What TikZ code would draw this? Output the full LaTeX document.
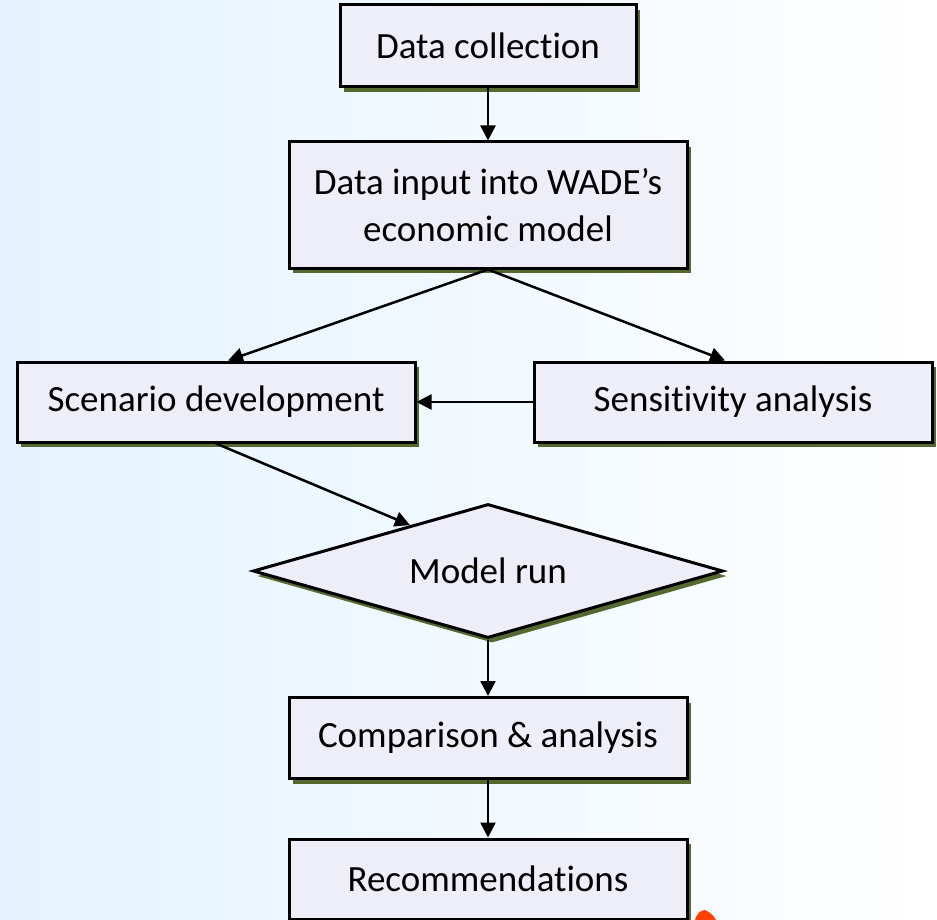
\documentclass[tikz,border=0pt]{standalone}
\usepackage{fontspec}
\setmainfont[Ligatures=NoCommon]{Carlito}
\usetikzlibrary{shapes.geometric,shadows,arrows.meta,calc}

\definecolor{bgblue}{RGB}{228,243,255}
\definecolor{boxfill}{RGB}{238,238,248}
\definecolor{shadowgreen}{RGB}{85,104,45}
\definecolor{logored}{RGB}{255,64,0}

\tikzset{
  stage/.style={draw, line width=3pt, fill=boxfill, inner sep=0pt, align=center,
    font=\fontsize{37}{47}\selectfont,
    drop shadow={shadow xshift=4pt, shadow yshift=-5pt, fill=shadowgreen, opacity=1}},
  decision/.style={stage, diamond, aspect=3.5},
  flow/.style={line width=2.5pt, -{Triangle[width=15pt,length=15pt]}},
}

\begin{document}
\begin{tikzpicture}[x=1pt, y=-1pt]
        \shade[left color=bgblue, right color=white] (0,0) rectangle (937,920);
        \useasboundingbox (0,0) rectangle (937,920);

        \node[stage, minimum width=296pt, minimum height=82pt] (coll) at (488,46) {Data collection};
        \node[stage, minimum width=398pt, minimum height=126pt] (input) at (488,205) {Data input into WADE’s\\economic model};
        \node[stage, minimum width=398pt, minimum height=80pt] (scen) at (216,402) {Scenario development};
        \node[stage, minimum width=398pt, minimum height=80pt] (sens) at (733,402) {Sensitivity analysis};
        \node[decision, minimum width=470pt, minimum height=134pt] (run) at (488,571) {Model run};
        \node[stage, minimum width=398pt, minimum height=81pt] (comp) at (488,738) {Comparison \& analysis};
        \node[stage, minimum width=398pt, minimum height=80pt] (rec) at (488,879) {Recommendations};

        \draw[flow] (coll) -- (input);
        \draw[flow] (input.south) -- ($(scen.north)+(12,0)$);
        \draw[flow] (input.south) -- ($(sens.north)+(-8,0)$);
        \draw[flow] (sens) -- (scen);
        \draw[flow] (scen.south) -- ($(run.north)!0.33!(run.west)$);
        \draw[flow] (run) -- (comp);
        \draw[flow] (comp) -- (rec);

        % cut-off red mark at the lower edge
        \fill[logored] (695,920) .. controls (697,913) and (701,910) .. (705,910)
          .. controls (710,912) and (714,916) .. (716,920) -- cycle;
      \end{tikzpicture}
\end{document}
